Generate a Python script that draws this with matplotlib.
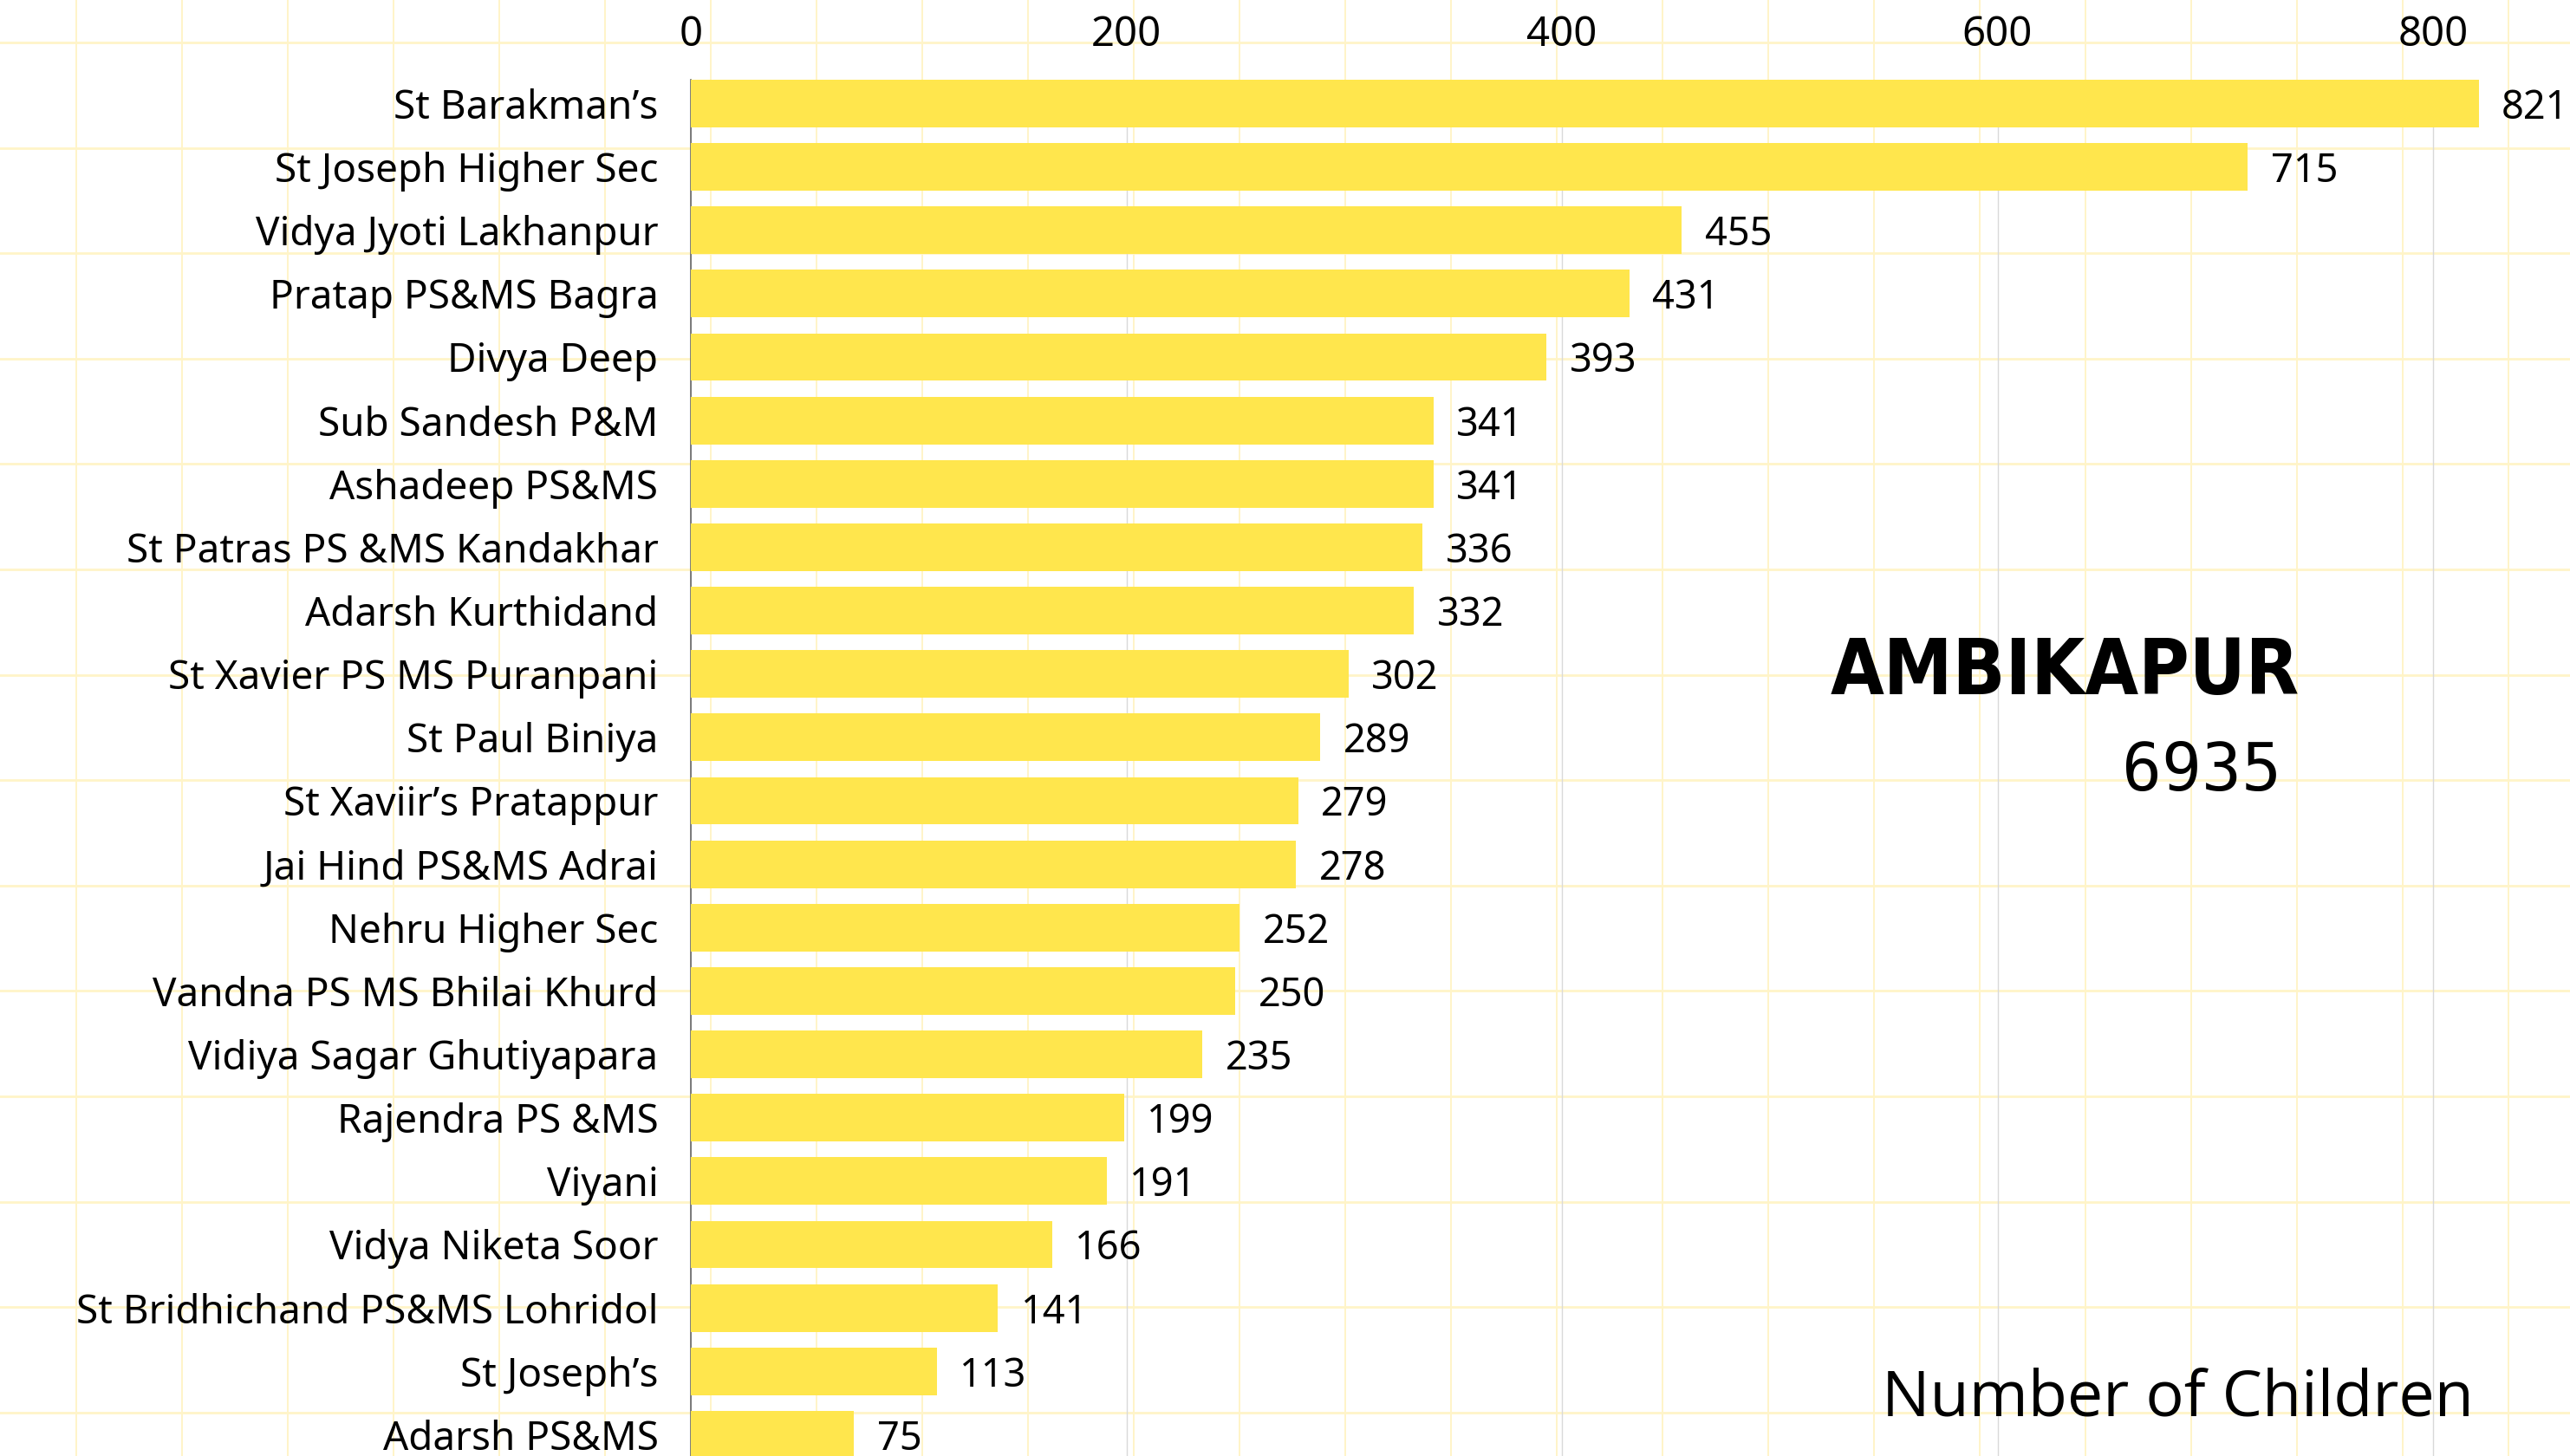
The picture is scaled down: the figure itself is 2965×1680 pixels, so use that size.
import matplotlib
matplotlib.use("Agg")
import matplotlib.pyplot as plt

schools = [
    "St Barakman’s", "St Joseph Higher Sec", "Vidya Jyoti Lakhanpur", "Pratap PS&MS Bagra",
    "Divya Deep", "Sub Sandesh P&M", "Ashadeep PS&MS", "St Patras PS &MS Kandakhar",
    "Adarsh Kurthidand", "St Xavier PS MS Puranpani", "St Paul Biniya", "St Xaviir’s Pratappur",
    "Jai Hind PS&MS Adrai", "Nehru Higher Sec", "Vandna PS MS Bhilai Khurd",
    "Vidiya Sagar Ghutiyapara", "Rajendra PS &MS", "Viyani", "Vidya Niketa Soor",
    "St Bridhichand PS&MS Lohridol", "St Joseph’s", "Adarsh PS&MS",
]
children = [821, 715, 455, 431, 393, 341, 341, 336, 332, 302, 289, 279, 278, 252, 250,
            235, 199, 191, 166, 141, 113, 75]
x_ticks = [0, 200, 400, 600, 800]
city = "AMBIKAPUR"
total = "6935"
axis_title = "Number of Children"

W, H, DPI = 2965, 1680, 100
fig = plt.figure(figsize=(W / DPI, H / DPI), dpi=DPI, facecolor="white")

# background graph-paper grid
bg = fig.add_axes([0, 0, 1, 1], zorder=0)
bg.set_xlim(0, W)
bg.set_ylim(H, 0)
bg.axis("off")
grid_col = "#FFF4C8"
gx = 88
while gx < W:
    bg.axvline(gx, color=grid_col, lw=1.4)
    gx += 122
gy = 49
while gy < H:
    bg.axhline(gy, color=grid_col, lw=2.0)
    gy += 121.6

# main axes
left_px, top_px = 797, 92
px_per_unit = 2.5125
row_px = 73.14
ax = fig.add_axes([left_px / W, 0, 1 - left_px / W, (H - top_px) / H], zorder=1)
ax.patch.set_alpha(0)
ypos = list(range(len(schools)))
ax.barh(ypos, children, height=0.75, color="#FFE64D", zorder=3)
ax.set_xlim(0, (W - left_px) / px_per_unit)
ax.set_ylim(-0.375 + (H - top_px) / row_px, -0.375)

FONT = "Noto Sans"
ax.set_xticks(x_ticks)
ax.xaxis.tick_top()
ax.tick_params(axis="x", length=0, pad=20, labelsize=34)
ax.set_yticks(ypos)
ax.set_yticklabels(schools)
ax.tick_params(axis="y", length=0, pad=27, labelsize=33)
for lab in ax.get_xticklabels() + ax.get_yticklabels():
    lab.set_fontfamily(FONT)
    lab.set_fontweight("medium")

ax.grid(axis="x", color="#D9D9D9", lw=1.0, zorder=0)
ax.set_axisbelow(True)
for s in ["top", "right", "bottom"]:
    ax.spines[s].set_visible(False)
ax.spines["left"].set_color("#666666")
ax.spines["left"].set_linewidth(1.2)

for i, v in enumerate(children):
    ax.text(v + 10.5, i, str(v), va="center_baseline", ha="left", fontsize=32.5,
            fontfamily=FONT, fontweight="semibold", zorder=4)

fig.text(2382 / W, 1 - 777 / H, city, ha="center", va="center", fontsize=64,
         fontfamily="DejaVu Sans", fontweight="bold", fontstretch="condensed", zorder=5)
fig.text(2540 / W, 1 - 891 / H, total, ha="center", va="center", fontsize=55,
         fontfamily="DejaVu Sans Mono", zorder=5)
fig.text(2854 / W, 1 - 1615 / H, axis_title, ha="right", va="center", fontsize=53,
         fontfamily="Open Sans", zorder=5)

fig.savefig("out.png", dpi=DPI, facecolor="white")
